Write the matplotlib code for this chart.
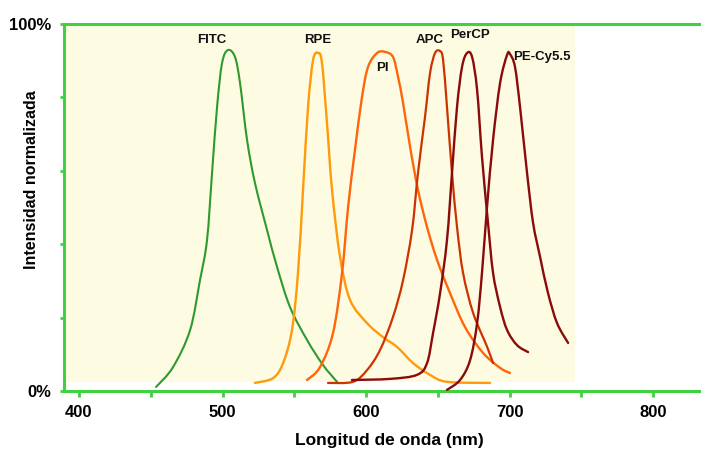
import matplotlib
matplotlib.use("Agg")
import matplotlib.pyplot as plt
from matplotlib.path import Path
from matplotlib.patches import PathPatch

# emission spectra: wavelength (nm), normalised intensity (%)
fitc_x = [453.7, 465.5, 477.4, 484.3, 489.2, 492.7, 496.2, 499.7, 503.8, 508.7,
          512.2, 517.1, 522.6, 531.0, 538.0, 547.0, 558.9, 570.0, 579.8]
fitc_y = [1.1, 6.5, 16.6, 30.2, 41.1, 59.4, 77.4, 89.4, 92.9, 91.0,
          83.9, 68.4, 56.7, 43.9, 33.8, 22.9, 13.9, 7.1, 2.5]

rpe_x = [522.6, 535.2, 542.2, 548.4, 552.6, 556.1, 559.6, 563.1, 566.6, 569.3, 572.8,
         576.3, 581.9, 588.9, 600.7, 611.8, 621.6, 632.8, 644.6, 656.4, 686.4]
rpe_y = [2.2, 3.5, 7.6, 16.6, 32.2, 54.8, 77.4, 90.2, 92.1, 89.4, 73.0,
         54.8, 36.5, 24.8, 18.5, 14.7, 12.0, 7.6, 4.4, 2.5, 2.2]

pi_x = [558.9, 567.9, 577.0, 583.3, 587.5, 592.3, 597.2, 601.4, 607.7, 613.2, 618.8,
        622.3, 625.8, 630.7, 636.2, 642.5, 649.5, 658.5, 669.0, 681.5, 693.4, 700.3]
pi_y = [3.0, 6.5, 15.8, 32.2, 50.1, 65.7, 80.1, 88.3, 92.1, 92.4, 91.0,
        85.6, 78.5, 66.5, 54.8, 44.7, 35.7, 26.7, 17.4, 10.4, 6.3, 4.9]

apc_x = [573.5, 590.9, 600.7, 609.8, 618.8, 625.8, 632.1, 636.2, 641.1, 644.6, 648.1,
         651.6, 653.7, 656.4, 659.9, 663.4, 667.6, 674.6, 684.4, 688.5]
apc_y = [2.2, 2.5, 5.7, 11.2, 20.2, 30.2, 43.9, 59.4, 74.7, 86.6, 92.1,
         92.6, 90.2, 77.4, 59.4, 44.7, 32.2, 21.3, 12.0, 7.6]

percp_x = [590.2, 616.7, 635.5, 642.5, 646.7, 651.6, 656.4, 659.9, 663.4, 666.9,
           670.4, 673.9, 677.4, 680.8, 685.0, 688.5, 693.4, 698.3, 705.2, 712.9]
percp_y = [3.0, 3.3, 4.4, 7.6, 15.8, 26.7, 41.1, 59.4, 77.4, 88.3,
           92.1, 91.0, 82.0, 63.8, 45.8, 32.2, 22.9, 16.6, 12.5, 10.6]

pecy_x = [656.4, 665.5, 672.5, 677.4, 680.8, 684.3, 688.5, 693.4, 698.3, 700.3,
          703.8, 707.3, 712.2, 716.4, 721.3, 726.8, 733.1, 740.8]
pecy_y = [0.3, 3.0, 8.4, 18.5, 32.2, 50.1, 68.4, 83.9, 91.6, 91.8,
          88.3, 77.4, 59.4, 45.8, 36.5, 26.7, 18.5, 13.1]

x_ticks = [400, 500, 600, 700, 800]
x_minor = [450, 550, 650, 750]
y_ticks = [0, 20, 40, 60, 80, 100]
y_labels = ["0%", "", "", "", "", "100%"]

green_axis = "#3fd13f"
font = "Liberation Sans"


def smooth_path(xs, ys):
    # curved path through the read points (Catmull-Rom as cubic Beziers)
    pts = list(zip(xs, ys))
    verts = [pts[0]]
    codes = [Path.MOVETO]
    for i in range(len(pts) - 1):
        p0 = pts[i - 1] if i > 0 else pts[i]
        p1, p2 = pts[i], pts[i + 1]
        p3 = pts[i + 2] if i + 2 < len(pts) else p2
        c1 = (p1[0] + (p2[0] - p0[0]) / 6, p1[1] + (p2[1] - p0[1]) / 6)
        c2 = (p2[0] - (p3[0] - p1[0]) / 6, p2[1] - (p3[1] - p1[1]) / 6)
        verts += [c1, c2, p2]
        codes += [Path.CURVE4] * 3
    return Path(verts, codes)


fig = plt.figure(figsize=(7.01, 4.5), dpi=100)
ax = fig.add_axes([64 / 701, 59 / 450, 637 / 701, 367 / 450])
ax.set_xlim(389.55, 833.4)
ax.set_ylim(0, 100)

# pale yellow plotting panel
ax.axvspan(389.55, 745.6, ymin=0.025, ymax=1, color="#fefbe3", lw=0, zorder=0)

curves = [
    (fitc_x, fitc_y, "#2e9a2e", 1.5),
    (rpe_x, rpe_y, "#ff9a0a", 1.7),
    (pi_x, pi_y, "#ff650a", 1.7),
    (apc_x, apc_y, "#cc3300", 1.6),
    (percp_x, percp_y, "#8b0a0a", 1.7),
    (pecy_x, pecy_y, "#8b0a0a", 1.7),
]
for xs, ys, c, lw in curves:
    ax.add_patch(PathPatch(smooth_path(xs, ys), facecolor="none", edgecolor=c,
                           lw=lw, joinstyle="round", capstyle="round", zorder=3))

labels = [
    ("FITC", 492.7, 95.6, "center"),
    ("RPE", 566.6, 95.6, "center"),
    ("PI", 611.1, 88.0, "center"),
    ("APC", 644.6, 95.6, "center"),
    ("PerCP", 672.5, 97.0, "center"),
    ("PE-Cy5.5", 702.4, 91.0, "left"),
]
for txt, x, y, ha in labels:
    ax.text(x, y, txt, ha=ha, va="center", fontsize=9.5, fontweight="bold",
            family=font, color="#111111", zorder=4)

ax.spines["right"].set_visible(False)
for side in ["left", "top", "bottom"]:
    ax.spines[side].set_color(green_axis)
    ax.spines[side].set_linewidth(2.2)

ax.set_xticks(x_ticks)
ax.set_xticks(x_minor, minor=True)
ax.set_yticks(y_ticks)
ax.set_yticklabels(y_labels)
ax.tick_params(axis="x", which="both", direction="out", length=4, width=2,
               color=green_axis, pad=6)
ax.tick_params(axis="y", direction="out", length=3, width=2,
               color=green_axis, pad=6)
for lab in ax.get_xticklabels() + ax.get_yticklabels():
    lab.set_fontsize(12)
    lab.set_fontweight("bold")
    lab.set_family(font)

ax.set_xlabel("Longitud de onda (nm)", fontsize=12.5, fontweight="bold",
              family=font, va="center")
ax.xaxis.set_label_coords((389 - 64) / 637, -49 / 367)
ax.set_ylabel("Intensidad normalizada", fontsize=11.5, fontweight="bold",
              family=font, va="center")
ax.yaxis.set_label_coords(-32 / 637, (391 - 180) / 367)

fig.savefig("out.png", dpi=100)
